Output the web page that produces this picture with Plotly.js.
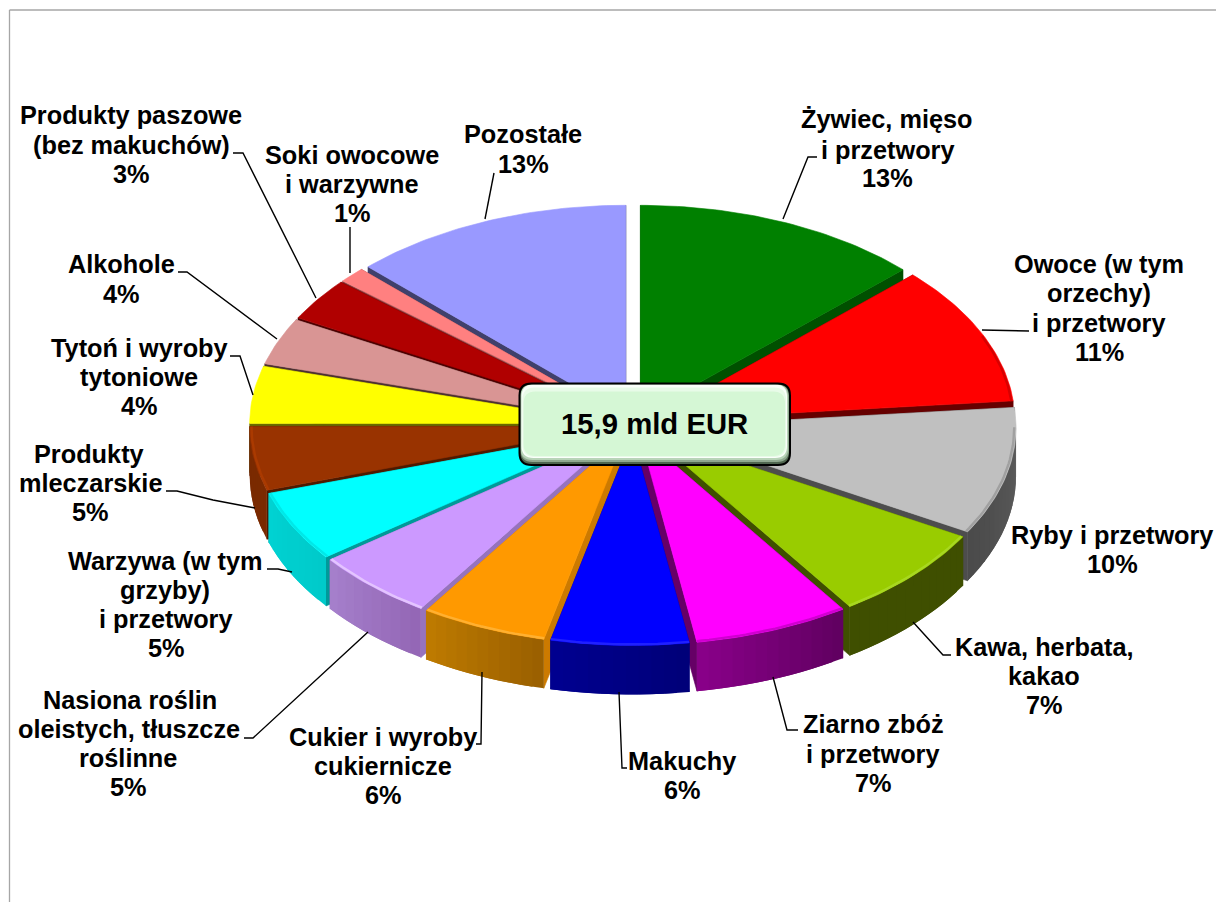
<!DOCTYPE html>
<html lang="pl">
<head>
<meta charset="utf-8">
<script src="https://cdn.plot.ly/plotly-3.0.1.min.js"></script>
<style>html,body{margin:0;padding:0;background:#fff}#chart{width:1216px;height:902px}</style>
</head>
<body>
<div id="chart"></div>
<script>
// ---- data ----
const categories = ["Żywiec, mięso i przetwory","Owoce (w tym orzechy) i przetwory","Ryby i przetwory","Kawa, herbata, kakao","Ziarno zbóż i przetwory","Makuchy","Cukier i wyroby cukiernicze","Nasiona roślin oleistych, tłuszcze roślinne","Warzywa (w tym grzyby) i przetwory","Produkty mleczarskie","Tytoń i wyroby tytoniowe","Alkohole","Produkty paszowe (bez makuchów)","Soki owocowe i warzywne","Pozostałe"];
const shares = [12.8,10.7,9.8,7.3,6.9,6.1,5.6,5.45,5.45,4.9,4.4,3.6,3.3,1.2,12.5];
const totalLabel = "15,9 mld EUR";

// ---- styles ----
const topColors = ["#008000","#ff0000","#c0c0c0","#99cc00","#ff00ff","#0000ff","#ff9900","#cc99ff","#00ffff","#993300","#ffff00","#d99594","#b00000","#ff8080","#9999ff"];
const sideColors = ["#005000","#660000","#4d4d4d","#3f4f00","#660066","#000080","#cc7a00","#9673bd","#009999","#4d1a00","#666600","#4d3030","#4d0000","#8a4545","#40406b"];
const wallLeft = ["#005000","#660000","#4a4a4a","#3f4f00","#8a008a","#000090","#bf7b00","#a680cc","#00d2d2","#7a2a00","#666600","#4d3030","#4d0000","#8a4545","#40406b"];
const wallRight = ["#005000","#660000","#5c5c5c","#3f4f00","#5f005f","#000078","#995f00","#9366b5","#00caca","#7a2a00","#666600","#4d3030","#4d0000","#8a4545","#40406b"];
const rimColors = [null,"#d80000","#a0a0a0","#a8d820","#d000d0","#2020ff","#ffb030","#e4c4ff","#00e8e8","#aa3a00",null,null,null,null,null];

// ---- layout of the drawing ----
const W = 1216, H = 902;
const cx = 633, cy = 425, rx = 364.5, ry = 210, ex = 19, ey = 10.5, depth = 49;
const fontFamily = "Liberation Sans, Arial, sans-serif";
const labelSize = 25.3, lineColor = "#000000";

// label lines: [text, centre x, centre y]
const labelLines = [
 ["Żywiec, mięso",887,119],["i przetwory",888,150],["13%",887,178],
 ["Owoce (w tym",1099,264],["orzechy)",1099,293],["i przetwory",1099,323],["11%",1099,352],
 ["Ryby i przetwory",1112,535],["10%",1112,564],
 ["Kawa, herbata,",1044,647],["kakao",1044,676],["7%",1044,705],
 ["Ziarno zbóż",873,724],["i przetwory",873,754],["7%",873,783],
 ["Makuchy",682,761],["6%",682,790],
 ["Cukier i wyroby",383,737],["cukiernicze",383,766],["6%",383,795],
 ["Nasiona roślin",130,700],["oleistych, tłuszcze",129,729],["roślinne",128,758],["5%",128,787],
 ["Warzywa (w tym",165,561],["grzyby)",165,590],["i przetwory",166,619],["5%",166,648],
 ["Produkty",89,454],["mleczarskie",90,483],["5%",90,512],
 ["Tytoń i wyroby",139,348],["tytoniowe",139,377],["4%",139,406],
 ["Alkohole",121,264],["4%",121,294],
 ["Produkty paszowe",131,115],["(bez makuchów)",131,145],["3%",131,174],
 ["Soki owocowe",352,155],["i warzywne",352,184],["1%",352,213],
 ["Pozostałe",523,134],["13%",523,164]
];
// leader lines
const leaders = [
 [[817,157],[808,157],[783,219]],
 [[982,330],[1029,331]],
 [[913,622],[943,655],[951,655]],
 [[773,677],[787,730],[798,730]],
 [[619,692],[622,768],[627,768]],
 [[482,672],[481,744],[476,744]],
 [[368,632],[253,738],[244,738]],
 [[267,569],[278,569],[292,572]],
 [[166,491],[177,491],[213,500],[255,508]],
 [[230,356],[240,356],[253,395]],
 [[178,272],[187,272],[277,339]],
 [[233,153],[243,153],[316,298]],
 [[350,227],[350,273]],
 [[494,173],[485,219]]
];

function hex(c){return [1,3,5].map(i=>parseInt(c.substr(i,2),16));}
function mix(a,b,f){const A=hex(a),B=hex(b);return "rgb("+A.map((v,i)=>Math.round(v+(B[i]-v)*f)).join(",")+")";}

const total = shares.reduce((a,b)=>a+b,0);
let acc = 0;
const slices = shares.map((v,i)=>{
  const t0 = acc/total*2*Math.PI; acc += v; const t1 = acc/total*2*Math.PI;
  const m = (t0+t1)/2;
  return {i,t0,t1,m,ox:cx+ex*Math.sin(m),oy:cy-ey*Math.cos(m)};
});
function pt(s,t,k,d){return [s.ox+k*rx*Math.sin(t), s.oy-k*ry*Math.cos(t)+(d||0)];}
function poly(points,color,name,lw){
  return {type:"scatter",mode:"lines",x:points.map(p=>p[0]),y:points.map(p=>p[1]),fill:"toself",fillcolor:color,
    line:{color:color,width:lw===undefined?0.6:lw},showlegend:false,hoverinfo:name?"text":"skip",text:name||"",name:name||""};
}
function arc(s,a,b,k,d){
  const n=Math.max(2,Math.ceil(Math.abs(b-a)/(Math.PI/180))),out=[];
  for(let j=0;j<=n;j++) out.push(pt(s,a+(b-a)*j/n,k,d));
  return out;
}
const traces = [];
slices.slice().sort((a,b)=>Math.cos(b.m)-Math.cos(a.m)).forEach(s=>{
  const side = sideColors[s.i];
  [s.t0,s.t1].forEach(t=>{
    const a=pt(s,t,1,0),b=pt(s,t,1,depth),c=pt(s,t,0,depth),o=pt(s,t,0,0);
    traces.push(poly([o,a,b,c,o],side));
  });
  // outer wall, only the part that faces the viewer; strips overlap so no seams show
  const a=Math.max(s.t0,Math.PI/2),b=Math.min(s.t1,1.5*Math.PI);
  if(b>a){
    const step=Math.PI/90,n=Math.max(1,Math.ceil((b-a)/step));
    for(let j=0;j<n;j++){
      const p=a+(b-a)*j/n;
      const q=a+(b-a)*Math.min(n,j+2)/n;
      const f=1-(j+0.5)/n;
      const pts=arc(s,p,q,1,0).concat(arc(s,q,p,1,depth));
      pts.push(pts[0]);
      traces.push(poly(pts,mix(wallLeft[s.i],wallRight[s.i],f),"",0));
    }
  }
  // top face
  const face=[pt(s,s.t0,0,0)].concat(arc(s,s.t0,s.t1,1,0),[pt(s,s.t0,0,0)]);
  traces.push(poly(face,topColors[s.i],categories[s.i]+": "+shares[s.i]+"%"));
  if(rimColors[s.i]){
    const ra=Math.max(s.t0,s.i===1?s.t0+0.35:Math.PI/2),rb=Math.min(s.t1,1.5*Math.PI);
    if(rb>ra){
      const r=arc(s,ra,rb,0.995,0);
      traces.push({type:"scatter",mode:"lines",x:r.map(p=>p[0]),y:r.map(p=>p[1]),line:{color:rimColors[s.i],width:2.4},showlegend:false,hoverinfo:"skip"});
    }
  }
});
leaders.forEach(l=>traces.push({type:"scatter",mode:"lines",x:l.map(p=>p[0]),y:l.map(p=>p[1]),line:{color:lineColor,width:1.4},showlegend:false,hoverinfo:"skip"}));

function rrect(x0,y0,x1,y1,r){
  return `M${x0+r},${y0} L${x1-r},${y0} Q${x1},${y0} ${x1},${y0+r} L${x1},${y1-r} Q${x1},${y1} ${x1-r},${y1} L${x0+r},${y1} Q${x0},${y1} ${x0},${y1-r} L${x0},${y0+r} Q${x0},${y0} ${x0+r},${y0} Z`;
}
const box = [519.5,383.5,790,465];
const boxLayers = [[0,0,0,0,"#4f664f"],[1,1,1,3,"#8fa88f"],[1,1,2,5,"#b8d4b8"],[2,1,3,7,"#fafffa"],[3,4,4,8,"#e8fbe8"],[4,8,5,9,"#d5f7d5"]];
const shapes = [
 {type:"line",xref:"x",yref:"y",x0:9.5,x1:9.5,y0:10,y1:902,line:{color:"#a6a6a6",width:1.3}},
 {type:"line",xref:"x",yref:"y",x0:9.5,x1:1216,y0:10,y1:10,line:{color:"#a6a6a6",width:1.3}}
];
boxLayers.forEach(l=>shapes.push({type:"path",xref:"x",yref:"y",path:rrect(box[0]+l[0],box[1]+l[1],box[2]-l[2],box[3]-l[3],12),fillcolor:l[4],line:{width:0}}));
shapes.push({type:"path",xref:"x",yref:"y",path:rrect(box[0],box[1],box[2],box[3],12),fillcolor:"rgba(0,0,0,0)",line:{color:"#000000",width:2}});

const annotations = labelLines.map(l=>({x:l[1],y:l[2],xref:"x",yref:"y",text:l[0],showarrow:false,xanchor:"center",yanchor:"middle",
  font:{family:fontFamily,size:labelSize,color:"#000",weight:700}}));
annotations.push({x:654.5,y:423,xref:"x",yref:"y",text:totalLabel,showarrow:false,xanchor:"center",yanchor:"middle",font:{family:fontFamily,size:29.3,color:"#000",weight:700}});

Plotly.newPlot("chart",traces,{
  width:W,height:H,margin:{l:0,r:0,t:0,b:0},paper_bgcolor:"#fff",plot_bgcolor:"#fff",showlegend:false,
  xaxis:{range:[0,W],visible:false,fixedrange:true},
  yaxis:{range:[H,0],visible:false,fixedrange:true},
  shapes:shapes,annotations:annotations
},{displayModeBar:false,staticPlot:true});
</script>
</body>
</html>
